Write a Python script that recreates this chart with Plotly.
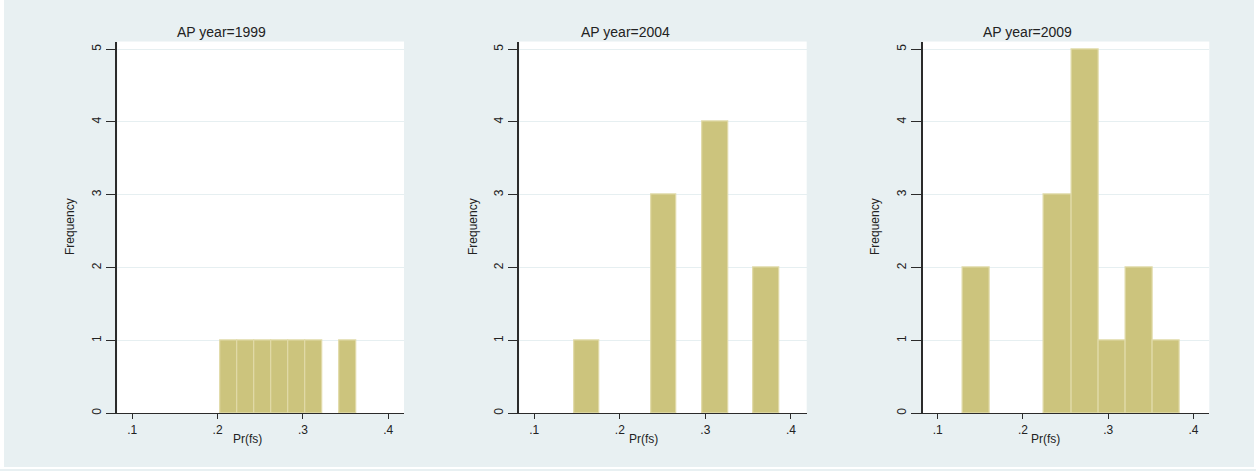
import plotly.graph_objects as go

W, H = 1256, 471

# ---- data ----
titles = ["AP year=1999", "AP year=2004", "AP year=2009"]
bin_start_1999 = 0.2033
bin_width_1999 = 0.0199
counts_1999 = [1, 1, 1, 1, 1, 1, 0, 1]

bin_start_2004 = 0.1464
bin_width_2004 = 0.0300
counts_2004 = [1, 0, 0, 3, 0, 4, 0, 2]

bin_start_2009 = 0.1296
bin_width_2009 = 0.03176
counts_2009 = [2, 0, 0, 3, 5, 1, 2, 1]

x_tickvals = [0.1, 0.2, 0.3, 0.4]
x_ticktext = [".1", ".2", ".3", ".4"]
y_tickvals = [0, 1, 2, 3, 4, 5]
x_title = "Pr(fs)"
y_title = "Frequency"

panels = [
    (bin_start_1999, bin_width_1999, counts_1999),
    (bin_start_2004, bin_width_2004, counts_2004),
    (bin_start_2009, bin_width_2009, counts_2009),
]

# ---- layout geometry (pixels) ----
px_x = [(117.3, 404.0), (519.3, 806.7), (922.7, 1209.3)]
px_top, px_bot = 41.7, 415.0
title_x = [222, 625, 1027]
ytitle_x = [70, 473, 875]
xtitle_x = [247, 643, 1045]

BAR = "#CCC47D"
BAR_EDGE = "#E0DAA8"
BG = "#E8F0F2"
AXIS = "#2b2b2b"
FONT = "Arial, Liberation Sans, Helvetica, sans-serif"

fig = go.Figure()
for i, (start, width, counts) in enumerate(panels):
    n = str(i + 1) if i else ""
    xs, ys = [], []
    for k, c in enumerate(counts):
        if c > 0:
            xs.append(start + width * (k + 0.5))
            ys.append(c)
    fig.add_trace(go.Bar(
        x=xs, y=ys, width=[width] * len(xs),
        marker=dict(color=BAR, line=dict(color=BAR_EDGE, width=1.2)),
        xaxis="x" + n, yaxis="y" + n, showlegend=False, hoverinfo="x+y",
    ))

white_strips = [
    (0, 4, 0, H),            # left edge
    (1254, W, 0, H),         # right edge
    (0, W, 469, H),          # bottom edge
]
shapes = [dict(type="rect", xref="paper", yref="paper",
               x0=a / W, x1=b / W, y0=1 - d / H, y1=1 - c / H,
               fillcolor="white", line=dict(width=0), layer="below")
          for a, b, c, d in white_strips]

layout = dict(
    width=W, height=H,
    margin=dict(l=0, r=0, t=0, b=0),
    paper_bgcolor=BG,
    plot_bgcolor="white",
    font=dict(family=FONT, size=12, color="#222"),
    bargap=0,
    shapes=shapes,
    annotations=[],
)

ydom = [1 - px_bot / H, 1 - px_top / H]
for i in range(3):
    n = str(i + 1) if i else ""
    x0, x1 = px_x[i]
    layout["xaxis" + n] = dict(
        domain=[x0 / W, x1 / W], anchor="y" + n,
        range=[0.0825, 0.4185],
        tickvals=x_tickvals, ticktext=x_ticktext,
        ticks="outside", ticklen=5, tickcolor=AXIS, tickwidth=1,
        showline=True, linecolor=AXIS, linewidth=1,
        showgrid=False, zeroline=False,
        tickfont=dict(size=12, color="#222"),
        fixedrange=True,
    )
    layout["yaxis" + n] = dict(
        domain=ydom, anchor="x" + n,
        range=[0, 5.104],
        tickvals=y_tickvals,
        ticks="outside", ticklen=10, tickcolor=AXIS, tickwidth=1,
        tickangle=-90,
        showline=True, linecolor=AXIS, linewidth=1.5,
        showgrid=True, gridcolor="#E6EFF1", gridwidth=1,
        zeroline=False,
        tickfont=dict(size=12, color="#222"),
        fixedrange=True,
    )
    layout["annotations"].append(dict(
        text=titles[i], x=title_x[i] / W, y=1 - 32 / H,
        xref="paper", yref="paper", showarrow=False,
        xanchor="center", yanchor="middle",
        font=dict(size=14, color="#222")))
    layout["annotations"].append(dict(
        text=y_title, x=ytitle_x[i] / W, y=1 - 228 / H,
        xref="paper", yref="paper", showarrow=False, textangle=-90,
        xanchor="center", yanchor="middle",
        font=dict(size=12, color="#222")))
    layout["annotations"].append(dict(
        text=x_title, x=xtitle_x[i] / W, y=1 - 441 / H,
        xref="paper", yref="paper", showarrow=False,
        xanchor="center", yanchor="middle",
        font=dict(size=12, color="#222")))

fig.update_layout(**layout)
fig.write_html("out.html",
               config={"displayModeBar": False},
               post_script="document.body.style.margin='0';document.body.style.overflow='hidden';")
